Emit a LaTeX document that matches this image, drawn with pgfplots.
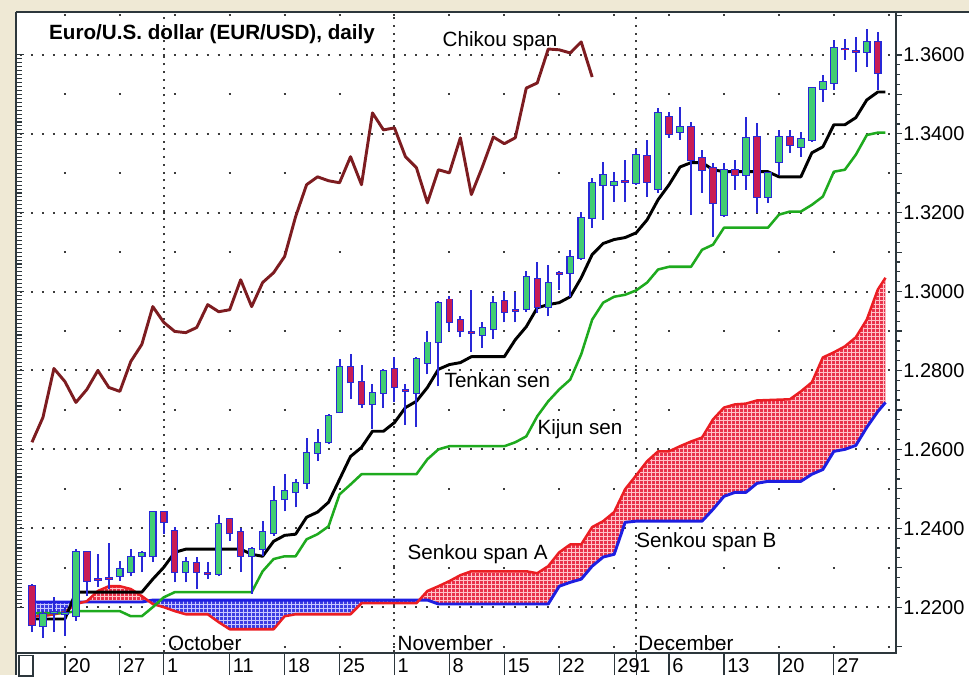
\documentclass[border=0pt]{standalone}
\usepackage{pgfplots}
\pgfplotsset{compat=1.18}
\usepackage{pgfplotstable}
\usepgfplotslibrary{fillbetween}
\usetikzlibrary{patterns}
\usepackage{fontspec}
\setmainfont{Liberation Sans}

\definecolor{bgbeige}{RGB}{239,233,213}
\definecolor{frame}{RGB}{45,55,60}
\definecolor{chik}{RGB}{125,28,32}
\definecolor{kij}{RGB}{30,170,30}
\definecolor{spA}{RGB}{235,30,35}
\definecolor{spB}{RGB}{30,30,225}
\definecolor{cgreen}{RGB}{65,205,115}
\definecolor{cred}{RGB}{200,28,85}
\definecolor{cblue}{RGB}{40,40,215}
\definecolor{cloudred}{RGB}{232,50,75}
\definecolor{cloudredgrid}{RGB}{255,195,200}
\definecolor{cloudblue}{RGB}{60,60,225}
\definecolor{cloudbluegrid}{RGB}{200,200,255}
\definecolor{griddot}{RGB}{60,60,60}

% k open high low close
\pgfplotstableread{
k o h l c
0 1.2253 1.2258 1.2137 1.2154
1 1.2152 1.2190 1.2122 1.2182
2 1.2185 1.2225 1.2137 1.2188
3 1.2183 1.2200 1.2127 1.2185
4 1.2177 1.2347 1.2165 1.2339
5 1.2339 1.2342 1.2228 1.2266
6 1.2272 1.2334 1.2251 1.2270
7 1.2274 1.2362 1.2246 1.2272
8 1.2278 1.2316 1.2266 1.2296
9 1.2289 1.2347 1.2278 1.2327
10 1.2330 1.2342 1.2289 1.2337
11 1.2329 1.2443 1.2314 1.2441
12 1.2441 1.2443 1.2385 1.2415
13 1.2392 1.2403 1.2263 1.2289
14 1.2289 1.2327 1.2263 1.2314
15 1.2311 1.2327 1.2246 1.2289
16 1.2287 1.2314 1.2271 1.2285
17 1.2284 1.2433 1.2278 1.2410
18 1.2423 1.2425 1.2368 1.2387
19 1.2390 1.2400 1.2289 1.2329
20 1.2329 1.2352 1.2233 1.2347
21 1.2347 1.2418 1.2329 1.2390
22 1.2387 1.2506 1.2380 1.2468
23 1.2473 1.2537 1.2443 1.2494
24 1.2491 1.2524 1.2453 1.2514
25 1.2514 1.2630 1.2499 1.2592
26 1.2592 1.2651 1.2570 1.2615
27 1.2618 1.2689 1.2613 1.2684
28 1.2694 1.2828 1.2692 1.2808
29 1.2808 1.2841 1.2727 1.2770
30 1.2770 1.2815 1.2706 1.2714
31 1.2714 1.2765 1.2651 1.2744
32 1.2744 1.2803 1.2706 1.2798
33 1.2803 1.2833 1.2719 1.2757
34 1.2750 1.2765 1.2663 1.2748
35 1.2744 1.2833 1.2658 1.2828
36 1.2820 1.2899 1.2790 1.2871
37 1.2871 1.2975 1.2760 1.2972
38 1.2980 1.2988 1.2899 1.2922
39 1.2927 1.2937 1.2884 1.2899
40 1.2897 1.3005 1.2848 1.2895
41 1.2891 1.2922 1.2858 1.2909
42 1.2904 1.2988 1.2879 1.2972
43 1.2975 1.2998 1.2922 1.2949
44 1.2953 1.3000 1.2922 1.2951
45 1.2955 1.3051 1.2949 1.3036
46 1.3031 1.3074 1.2947 1.2960
47 1.2960 1.3068 1.2937 1.3023
48 1.3047 1.3051 1.3005 1.3045
49 1.3048 1.3106 1.2987 1.3089
50 1.3086 1.3203 1.3081 1.3187
51 1.3187 1.3289 1.3162 1.3276
52 1.3271 1.3329 1.3182 1.3296
53 1.3270 1.3304 1.3228 1.3278
54 1.3280 1.3334 1.3228 1.3278
55 1.3276 1.3362 1.3271 1.3347
56 1.3344 1.3385 1.3241 1.3279
57 1.3260 1.3465 1.3250 1.3453
58 1.3443 1.3456 1.3390 1.3400
59 1.3405 1.3469 1.3385 1.3418
60 1.3418 1.3431 1.3195 1.3334
61 1.3339 1.3359 1.3251 1.3309
62 1.3314 1.3327 1.3139 1.3225
63 1.3195 1.3327 1.3190 1.3309
64 1.3309 1.3334 1.3258 1.3296
65 1.3296 1.3443 1.3258 1.3390
66 1.3393 1.3428 1.3200 1.3241
67 1.3241 1.3304 1.3225 1.3301
68 1.3329 1.3410 1.3296 1.3393
69 1.3393 1.3410 1.3352 1.3372
70 1.3367 1.3405 1.3342 1.3387
71 1.3385 1.3519 1.3380 1.3517
72 1.3514 1.3550 1.3481 1.3532
73 1.3529 1.3638 1.3512 1.3618
74 1.3616 1.3641 1.3588 1.3614
75 1.3609 1.3646 1.3557 1.3607
76 1.3608 1.3666 1.3570 1.3633
77 1.3633 1.3658 1.3512 1.3555
}\candles

\pgfplotstableread{
k v
0 1.2170
3 1.2170
4 1.2238
10 1.2238
11 1.2271
12 1.2301
13 1.2339
14 1.2347
19 1.2347
20 1.2334
21 1.2329
22 1.2367
23 1.2382
24 1.2385
25 1.2428
26 1.2441
27 1.2466
28 1.2524
29 1.2582
30 1.2605
31 1.2646
32 1.2646
33 1.2668
34 1.2706
35 1.2722
36 1.2757
37 1.2803
38 1.2815
39 1.2820
40 1.2835
43 1.2835
44 1.2878
45 1.2911
46 1.2959
47 1.2967
48 1.2972
49 1.2987
50 1.3035
51 1.3094
52 1.3122
53 1.3132
54 1.3137
55 1.3149
56 1.3182
57 1.3233
58 1.3271
59 1.3316
60 1.3327
61 1.3327
62 1.3309
63 1.3304
67 1.3304
68 1.3291
70 1.3291
71 1.3352
72 1.3367
73 1.3423
74 1.3423
75 1.3441
76 1.3486
77 1.3506
77.7 1.3506
}\tenkan

\pgfplotstableread{
k v
0 1.2185
3 1.2185
4 1.2190
8 1.2190
9 1.2177
10 1.2177
11 1.2200
12 1.2225
13 1.2238
20 1.2238
21 1.2291
22 1.2322
23 1.2329
24 1.2329
25 1.2372
26 1.2385
27 1.2405
28 1.2486
29 1.2511
30 1.2537
35 1.2537
36 1.2575
37 1.2600
38 1.2608
43 1.2608
44 1.2618
45 1.2633
46 1.2684
47 1.2722
48 1.2752
49 1.2777
50 1.2841
51 1.2929
52 1.2972
53 1.2987
54 1.2992
55 1.3003
56 1.3023
57 1.3056
58 1.3063
60 1.3063
61 1.3106
62 1.3119
63 1.3162
67 1.3162
68 1.3195
69 1.3203
70 1.3203
71 1.3220
72 1.3241
73 1.3304
74 1.3309
75 1.3347
76 1.3397
77 1.3403
77.7 1.3403
}\kijun

\pgfplotstableread{
k v
0 1.2177
1 1.2177
2 1.2182
3 1.2187
4 1.2208
5 1.2215
6 1.2241
7 1.2253
8 1.2253
9 1.2246
10 1.2228
11 1.2208
12 1.2200
13 1.2190
14 1.2182
16 1.2182
17 1.2162
18 1.2144
22 1.2144
23 1.2177
24 1.2182
29 1.2182
30 1.2210
35 1.2210
36 1.2241
37 1.2253
38 1.2266
39 1.2281
40 1.2291
45 1.2291
46 1.2286
47 1.2304
48 1.2339
49 1.2359
50 1.2359
51 1.2403
52 1.2418
53 1.2441
54 1.2499
55 1.2534
56 1.2570
57 1.2595
58 1.2595
59 1.2608
60 1.2620
61 1.2630
62 1.2676
63 1.2706
64 1.2714
65 1.2716
66 1.2724
69 1.2727
70 1.2747
71 1.2770
72 1.2833
73 1.2846
74 1.2861
75 1.2884
76 1.2929
77 1.3005
77.7 1.3035
}\spanA

\pgfplotstableread{
k v
0 1.2213
10 1.2213
11 1.2218
36 1.2218
37 1.2208
47 1.2208
48 1.2253
49 1.2263
50 1.2271
51 1.2304
52 1.2327
53 1.2334
54 1.2415
55 1.2418
61 1.2418
62 1.2448
63 1.2481
64 1.2491
65 1.2491
66 1.2514
67 1.2519
70 1.2519
71 1.2537
72 1.2549
73 1.2595
74 1.2600
75 1.2610
76 1.2656
77 1.2696
77.7 1.2719
}\spanB

\pgfplotstableread{
k v
0 1.2618
1 1.2681
2 1.2805
3 1.2772
4 1.2719
5 1.2752
6 1.2800
7 1.2757
8 1.2747
9 1.2823
10 1.2866
11 1.2962
12 1.2922
13 1.2899
14 1.2896
15 1.2909
16 1.2967
17 1.2949
18 1.2954
19 1.3030
20 1.2962
21 1.3023
22 1.3048
23 1.3089
24 1.3190
25 1.3271
26 1.3291
27 1.3281
28 1.3276
29 1.3342
30 1.3271
31 1.3453
32 1.3410
33 1.3415
34 1.3342
35 1.3314
36 1.3225
37 1.3309
38 1.3301
39 1.3390
40 1.3246
41 1.3316
42 1.3392
43 1.3375
44 1.3390
45 1.3516
46 1.3529
47 1.3615
48 1.3613
49 1.3605
50 1.3633
51 1.3544
}\chikou

\newcommand{\axpos}{at={(12pt,-9pt)}, anchor=north west, scale only axis, width=660.75pt, height=481.5pt, xmin=-1.4545, xmax=78.636, ymin=1.20835, ymax=1.37089}

\begin{document}
\begin{tikzpicture}
\begin{scope}[x=0.75pt,y=-0.75pt]
\useasboundingbox (0,0) rectangle (970,676);
\fill[bgbeige] (0,0) rectangle (970,12);
\fill[bgbeige] (0,0) rectangle (16,676);
\end{scope}

% bottom tick separators
\begin{axis}[\axpos,
  axis y line=none, axis x line*=bottom,
  x axis line style={draw=none},
  xtick={3,8,12,18,23,28,33,38,43,48,53,55,58,63,68,73}, xticklabels={},
  tick align=outside, major tick length=16.5pt,
  tick style={frame, line width=0.9pt, solid}]
\end{axis}

\begin{axis}[\axpos,
  axis line style={frame, line width=1.5pt},
  xtick=\empty, xtick pos=bottom,
  extra x ticks={12,33,55}, extra x tick labels={},
  extra x tick style={grid=major, major grid style={griddot, line width=1.5pt, dash pattern=on 1.5pt off 4.3pt}},
  ytick={1.22,1.24,1.26,1.28,1.30,1.32,1.34,1.36},
  yticklabels={1.2200,1.2400,1.2600,1.2800,1.3000,1.3200,1.3400,1.3600},
  ytick pos=right, yticklabel pos=right,
  yticklabel style={anchor=west, inner sep=0pt, xshift=1pt, font=\fontsize{15}{18}\selectfont},
  minor y tick num=7, tick align=outside,
  major tick length=4.5pt, minor tick length=3pt,
  tick style={frame, line width=0.9pt, solid},
  ymajorgrids,
  major grid style={griddot, line width=1.5pt, dash pattern=on 1.5pt off 6.75pt, dash phase=5.25pt},
  extra y ticks={1.21,1.23,1.25,1.27,1.29,1.31,1.33,1.35,1.37}, extra y tick labels={},
  extra y tick style={grid=major, major grid style={griddot, line width=1.5pt, dash pattern=on 1.5pt off 39.75pt, dash phase=5.25pt}},
]
% cloud
\addplot[draw=none, name path=A, forget plot] table[x=k,y=v]{\spanA};
\addplot[draw=none, name path=B, forget plot] table[x=k,y=v]{\spanB};
\addplot[fill=cloudred, postaction={pattern=grid, pattern color=cloudredgrid}] fill between[of=A and B, split,
   every segment no 0/.style={fill=cloudblue, postaction={pattern=grid, pattern color=cloudbluegrid}},
   every segment no 2/.style={fill=cloudblue, postaction={pattern=grid, pattern color=cloudbluegrid}}];
\addplot[spB, line width=2.2pt, line join=round] table[x=k,y=v]{\spanB};
\addplot[spA, line width=1.9pt, line join=round] table[x=k,y=v]{\spanA};
\addplot[kij, line width=1.9pt, line join=round] table[x=k,y=v]{\kijun};
\addplot[black, line width=2.2pt, line join=round] table[x=k,y=v]{\tenkan};
\addplot[chik, line width=2.2pt, line join=round] table[x=k,y=v]{\chikou};
% candles: wicks
\addplot[draw=none, mark=none, error bars/.cd, y dir=plus, y explicit, error mark=none,
   error bar style={draw=cblue, line width=1.5pt, solid}]
   table[x=k, y=l, y error plus expr=\thisrow{h}-\thisrow{l}]{\candles};
% body outlines
\addplot[draw=none, mark=none, error bars/.cd, y dir=plus, y explicit, error mark=none,
   error bar style={draw=cblue, line width=5.6pt, solid}]
   table[x=k, y expr={min(\thisrow{o},\thisrow{c})-0.00025}, y error plus expr={abs(\thisrow{c}-\thisrow{o})+0.0005}]{\candles};
% up bodies
\addplot[draw=none, mark=none, error bars/.cd, y dir=plus, y explicit, error mark=none,
   error bar style={draw=cgreen, line width=4pt, solid}]
   table[x=k, y=o, y error plus expr={max(\thisrow{c}-\thisrow{o},0)}]{\candles};
% down bodies
\addplot[draw=none, mark=none, error bars/.cd, y dir=plus, y explicit, error mark=none,
   error bar style={draw=cred, line width=4pt, solid}]
   table[x=k, y=c, y error plus expr={max(\thisrow{o}-\thisrow{c},0)}]{\candles};
\end{axis}

% left-side ticks
\begin{axis}[\axpos,
  axis line style={draw=none},
  xtick=\empty, ytick pos=left,
  ytick={1.22,1.24,1.26,1.28,1.30,1.32,1.34,1.36}, yticklabels={},
  minor y tick num=19, tick align=inside,
  major tick length=6pt, minor tick length=4.5pt,
  tick style={frame, line width=0.8pt, solid}]
\end{axis}

\begin{scope}[x=0.75pt,y=-0.75pt]
\draw[frame, line width=2pt] (16,12) -- (970,12);
\draw[frame, line width=2pt] (16,12) -- (16,676);
\draw[frame, line width=0.9pt] (19,656) rectangle (33,677);
\begin{scope}[every node/.style={anchor=base west, inner sep=0pt, font=\fontsize{15.5}{18}\selectfont}]
\node[font=\bfseries\fontsize{15.5}{18}\selectfont] at (49,40) {Euro/U.S. dollar (EUR/USD), daily};
\node at (443,47) {Chikou span};
\node at (445,388) {Tenkan sen};
\node at (538,435) {Kijun sen};
\node at (408,560) {Senkou span A};
\node at (637,548) {Senkou span B};
\node at (168,651) {October};
\node at (398,651) {November};
\node at (639,651) {December};
\end{scope}
\begin{scope}[every node/.style={anchor=base west, inner sep=0pt, font=\fontsize{15}{18}\selectfont}]
\node at (68,673) {20};
\node at (123,673) {27};
\node at (167,673) {1};
\node at (233,673) {11};
\node at (288,673) {18};
\node at (343,673) {25};
\node at (398,673) {1};
\node at (453,673) {8};
\node at (508,673) {15};
\node at (563,673) {22};
\node at (618,673) {29};
\node at (640,673) {1};
\node at (673,673) {6};
\node at (728,673) {13};
\node at (783,673) {20};
\node at (838,673) {27};
\end{scope}
\end{scope}
\end{tikzpicture}
\end{document}
